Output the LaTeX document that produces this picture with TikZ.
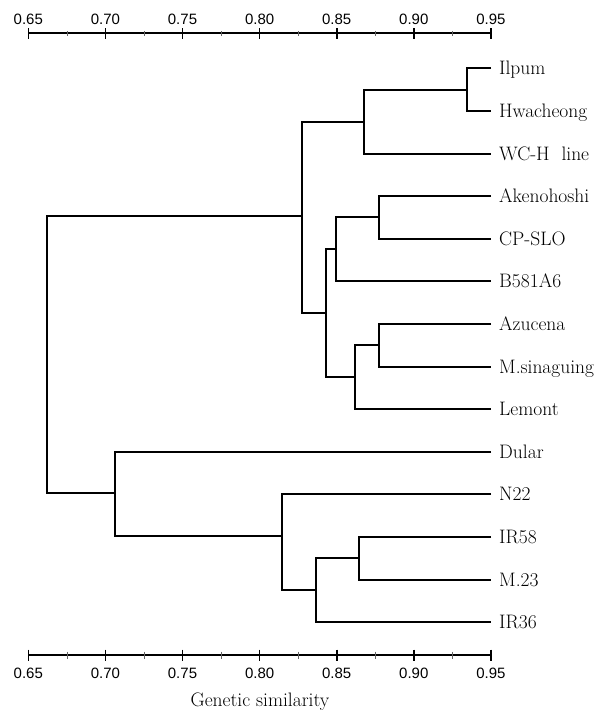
\documentclass[tikz,border=0pt]{standalone}
\usepackage{fontspec}
\newfontfamily\axisfont{Liberation Sans}
\begin{document}
\begin{tikzpicture}[x=1pt,y=-1pt,
  branch/.style={line width=2pt, line join=miter},
  axisline/.style={line width=2pt},
  majortick/.style={line width=1.6pt},
  minortick/.style={line width=0.7pt, black!60},
  leaflabel/.style={anchor=base west, inner sep=0pt, font=\fontsize{19.5}{23}\selectfont},
  axislabel/.style={anchor=base, inner sep=0pt, font=\axisfont\fontsize{15}{18}\selectfont},
  titlelabel/.style={anchor=base, inner sep=0pt, font=\fontsize{19.5}{23}\selectfont}]
\useasboundingbox (0,0) rectangle (614,713);

% ---------- axes ----------
\coordinate (tl) at (28.3,33.3);
\coordinate (tr) at (490.9,33.3);
\coordinate (bl) at (28.3,655);
\coordinate (br) at (490.9,655);
\draw[axisline] (tl) -- (tr);
\draw[axisline] (bl) -- (br);
\foreach \v/\x in {0.65/28.3,0.70/105.4,0.75/182.5,0.80/259.6,0.85/336.7,0.90/413.8,0.95/490.9}{
  \draw[majortick] (\x,28) -- (\x,39);
  \draw[majortick] (\x,649.5) -- (\x,660.5);
  \node[axislabel] at (\x,24.3) {\v};
  \node[axislabel] at (\x,678.5) {\v};
}
\foreach \x in {66.9,144.0,221.0,298.2,375.3,452.4}{
  \draw[minortick] (\x,31) -- (\x,35.6);
  \draw[minortick] (\x,651.5) -- (\x,658.5);
}
\node[titlelabel] (title) at (260,706) {\addfontfeature{LetterSpace=3}Genetic similarity};

% ---------- leaves ----------
\foreach \i/\y/\t in {1/68.3/Ilpum, 2/110.9/Hwacheong, 3/153.5/WC-H~~line,
  4/196.1/Akenohoshi, 5/238.7/CP-SLO, 6/281.3/B581A6, 7/323.9/Azucena,
  8/366.5/M.sinaguing, 9/409.1/Lemont, 10/451.7/Dular, 11/494.3/N22,
  12/536.9/IR58, 13/579.5/M.23, 14/622.1/IR36}{
  \coordinate (e\i) at (491,\y);
  \node[leaflabel] (t\i) at (499,\y+6.6) {\t};
}

% ---------- internal nodes ----------
\coordinate (h1) at (467,89.6);
\coordinate (a1) at (364.3,121.6);
\coordinate (k1) at (379,217.4);
\coordinate (k2) at (336,249.4);
\coordinate (z1) at (379,345.2);
\coordinate (z2) at (355,377.2);
\coordinate (c)  at (326,313.3);
\coordinate (a)  at (301.7,216);
\coordinate (m1) at (358.8,558.2);
\coordinate (m2) at (315.7,590.2);
\coordinate (b2) at (282.4,536);
\coordinate (b)  at (115,493);
\coordinate (r)  at (46.7,357);

% ---------- branches ----------
\draw[branch] (e1) -| (h1) |- (e2);
\draw[branch] (h1) -| (a1) |- (e3);
\draw[branch] (e4) -| (k1) |- (e5);
\draw[branch] (k1) -| (k2) |- (e6);
\draw[branch] (e7) -| (z1) |- (e8);
\draw[branch] (z1) -| (z2) |- (e9);
\draw[branch] (k2) -| (c) |- (z2);
\draw[branch] (a1) -| (a) |- (c);
\draw[branch] (e12) -| (m1) |- (e13);
\draw[branch] (m1) -| (m2) |- (e14);
\draw[branch] (e11) -| (b2) |- (m2);
\draw[branch] (e10) -| (b) |- (b2);
\draw[branch] (a) -| (r) |- (b);
\end{tikzpicture}
\end{document}
